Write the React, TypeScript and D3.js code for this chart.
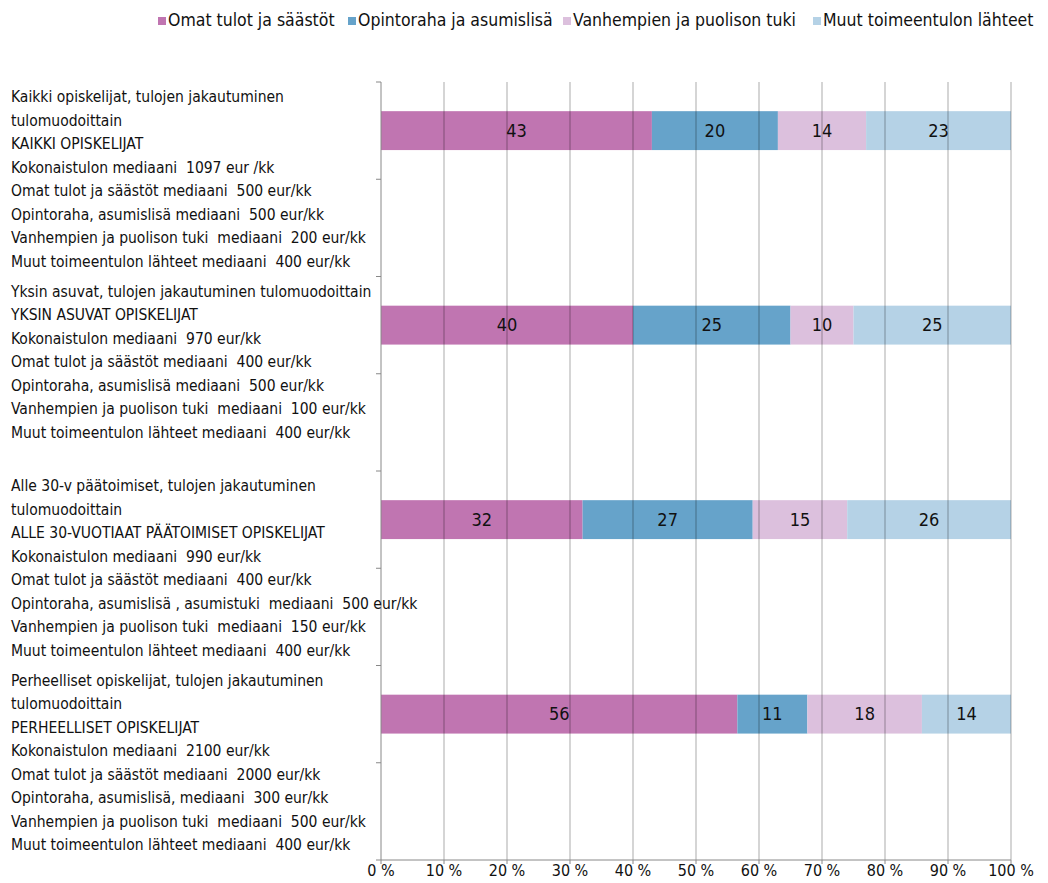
import { useEffect, useRef } from 'react';
import * as d3 from 'd3';

const seriesNames = [
  'Omat tulot ja säästöt',
  'Opintoraha ja asumislisä',
  'Vanhempien ja puolison tuki',
  'Muut toimeentulon lähteet',
];
const seriesColors = ['#C075B1', '#66A3CA', '#DCC0DD', '#B5D2E6'];

const groupKeys = ['kaikki', 'yksin', 'alle30', 'perhe'];

const kaikkiValues = [43, 20, 14, 23];
const yksinValues = [40, 25, 10, 25];
const alle30Values = [32, 27, 15, 26];
const perheValues = [56, 11, 18, 14];

const kaikkiLines = [
  'Kaikki opiskelijat, tulojen jakautuminen',
  'tulomuodoittain',
  'KAIKKI OPISKELIJAT',
  'Kokonaistulon mediaani  1097 eur /kk',
  'Omat tulot ja säästöt mediaani  500 eur/kk',
  'Opintoraha, asumislisä mediaani  500 eur/kk',
  'Vanhempien ja puolison tuki  mediaani  200 eur/kk',
  'Muut toimeentulon lähteet mediaani  400 eur/kk',
];
const yksinLines = [
  'Yksin asuvat, tulojen jakautuminen tulomuodoittain',
  'YKSIN ASUVAT OPISKELIJAT',
  'Kokonaistulon mediaani  970 eur/kk',
  'Omat tulot ja säästöt mediaani  400 eur/kk',
  'Opintoraha, asumislisä mediaani  500 eur/kk',
  'Vanhempien ja puolison tuki  mediaani  100 eur/kk',
  'Muut toimeentulon lähteet mediaani  400 eur/kk',
  '',
];
const alle30Lines = [
  'Alle 30-v päätoimiset, tulojen jakautuminen',
  'tulomuodoittain',
  'ALLE 30-VUOTIAAT PÄÄTOIMISET OPISKELIJAT',
  'Kokonaistulon mediaani  990 eur/kk',
  'Omat tulot ja säästöt mediaani  400 eur/kk',
  'Opintoraha, asumislisä , asumistuki  mediaani  500 eur/kk',
  'Vanhempien ja puolison tuki  mediaani  150 eur/kk',
  'Muut toimeentulon lähteet mediaani  400 eur/kk',
];
const perheLines = [
  'Perheelliset opiskelijat, tulojen jakautuminen',
  'tulomuodoittain',
  'PERHEELLISET OPISKELIJAT',
  'Kokonaistulon mediaani  2100 eur/kk',
  'Omat tulot ja säästöt mediaani  2000 eur/kk',
  'Opintoraha, asumislisä, mediaani  300 eur/kk',
  'Vanhempien ja puolison tuki  mediaani  500 eur/kk',
  'Muut toimeentulon lähteet mediaani  400 eur/kk',
];

const xTicks = [0, 10, 20, 30, 40, 50, 60, 70, 80, 90, 100];

const FONT = "'DejaVu Sans Condensed', 'Liberation Sans Narrow', sans-serif";

const App = () => {
  const chartRef = useRef<HTMLDivElement>(null);

  useEffect(() => {
    if (!chartRef.current) return;
    d3.select(chartRef.current).selectAll('*').remove();

    const width = 1048;
    const height = 883;
    const left = 381;
    const right = 1011;
    const top = 82;
    const bottom = 860;

    const groups = [
      { key: groupKeys[0], values: kaikkiValues, lines: kaikkiLines },
      { key: groupKeys[1], values: yksinValues, lines: yksinLines },
      { key: groupKeys[2], values: alle30Values, lines: alle30Lines },
      { key: groupKeys[3], values: perheValues, lines: perheLines },
    ];

    // every group takes two rows: the bar and the empty row under it
    const rows = groupKeys.flatMap(k => [k + '-bar', k + '-note']);

    const svg = d3.select(chartRef.current)
      .append('svg')
      .attr('width', width)
      .attr('height', height)
      .style('display', 'block')
      .style('font-family', FONT);

    const x = d3.scaleLinear().domain([0, 100]).range([left, right]);
    const y = d3.scaleBand<string>().domain(rows).range([top, bottom]);
    const bw = y.bandwidth();
    const barH = bw * 0.4;

    // bars (100 % stacked, so each group is normalised to its sum)
    groups.forEach(g => {
      const total = d3.sum(g.values);
      let acc = 0;
      const segs = g.values.map((v, i) => {
        const s = { i, v, x0: (acc / total) * 100, x1: ((acc + v) / total) * 100 };
        acc += v;
        return s;
      });
      const by = y(g.key + '-bar')! + (bw - barH) / 2;
      const bar = svg.append('g');
      bar.selectAll('rect')
        .data(segs)
        .join('rect')
        .attr('x', d => x(d.x0))
        .attr('y', by)
        .attr('width', d => x(d.x1) - x(d.x0))
        .attr('height', barH)
        .attr('fill', d => seriesColors[d.i]);
      bar.selectAll('text')
        .data(segs)
        .join('text')
        .attr('x', d => (x(d.x0) + x(d.x1)) / 2)
        .attr('y', by + barH / 2)
        .attr('dy', '0.35em')
        .attr('text-anchor', 'middle')
        .style('font-size', '18px')
        .attr('fill', '#111')
        .text(d => d.v);
    });

    // gridlines drawn above bars
    svg.append('g')
      .selectAll('line')
      .data(xTicks.slice(1))
      .join('line')
      .attr('x1', d => x(d))
      .attr('x2', d => x(d))
      .attr('y1', top)
      .attr('y2', bottom)
      .attr('stroke', '#000')
      .attr('stroke-opacity', 0.33)
      .attr('stroke-width', 1);

    // y axis
    svg.append('line')
      .attr('x1', left).attr('x2', left)
      .attr('y1', top).attr('y2', bottom)
      .attr('stroke', '#888');
    const yTickPos = rows.map(r => y(r)!).concat([bottom]);
    svg.append('g')
      .selectAll('line')
      .data(yTickPos)
      .join('line')
      .attr('x1', left - 5).attr('x2', left)
      .attr('y1', d => d).attr('y2', d => d)
      .attr('stroke', '#888');

    // x axis
    svg.append('line')
      .attr('x1', left).attr('x2', right)
      .attr('y1', bottom).attr('y2', bottom)
      .attr('stroke', '#888');
    const xAxis = svg.append('g');
    xAxis.selectAll('line')
      .data(xTicks)
      .join('line')
      .attr('x1', d => x(d)).attr('x2', d => x(d))
      .attr('y1', bottom).attr('y2', bottom + 4)
      .attr('stroke', '#888');
    xAxis.selectAll('text')
      .data(xTicks)
      .join('text')
      .attr('x', d => x(d))
      .attr('y', bottom + 16)
      .attr('text-anchor', 'middle')
      .style('font-size', '16px')
      .attr('fill', '#111')
      .text(d => `${d} %`);

    // category labels, centred on the group's two rows
    const lineH = 23.5;
    groups.forEach(g => {
      const cy = y(g.key + '-note')!;
      const y0 = cy - ((g.lines.length - 1) * lineH) / 2;
      svg.append('g')
        .selectAll('text')
        .data(g.lines)
        .join('text')
        .attr('x', 11)
        .attr('y', (_, i) => y0 + i * lineH)
        .attr('dy', '0.35em')
        .style('font-size', '15.5px')
        .style('white-space', 'pre')
        .attr('fill', '#111')
        .text(d => d);
    });

    // legend
    const legendX = [158, 348, 563, 813];
    const legend = svg.append('g')
      .selectAll('g')
      .data(seriesNames)
      .join('g')
      .attr('transform', (_, i) => `translate(${legendX[i]},20)`);
    legend.append('rect')
      .attr('x', 0).attr('y', -3)
      .attr('width', 8).attr('height', 8)
      .attr('fill', (_, i) => seriesColors[i]);
    legend.append('text')
      .attr('x', 10)
      .attr('dy', '0.35em')
      .style('font-size', '17.5px')
      .attr('fill', '#111')
      .text(d => d);
  }, []);

  return <div ref={chartRef} style={{ position: 'absolute', left: 0, top: 0 }} />;
};

export default App;
